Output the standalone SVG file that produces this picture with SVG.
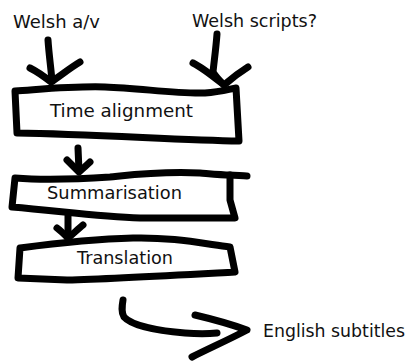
<svg xmlns="http://www.w3.org/2000/svg" width="412" height="363" viewBox="0 0 412 363">
  <style>
    .ink { fill: none; stroke: #000; stroke-width: 7; stroke-linecap: round; stroke-linejoin: round; }
    .box { fill: #fff; stroke: #000; stroke-width: 7; stroke-linecap: round; stroke-linejoin: round; }
    .lbl { font-family: "DejaVu Sans", "Liberation Sans", sans-serif; font-size: 17px; fill: #111; }
  </style>
  <rect width="412" height="363" fill="#fff"/>

  <!-- hand-drawn connectors -->
  <g id="connectors">
    <!-- Welsh a/v into Time alignment -->
    <path class="ink" d="M48,40 C49,55 51,68 52,81"/>
    <path class="ink" d="M30,68 C38,72 46,78 51,82 C60,76 70,68 80,62"/>
    <!-- Welsh scripts? into Time alignment -->
    <path class="ink" d="M217,34 C216,48 214,62 213,72 C216,77 220,81 224,85"/>
    <path class="ink" d="M193,63 C203,68 214,77 224,85 C232,78 240,72 248,67"/>
    <!-- Time alignment to Summarisation -->
    <path class="ink" d="M78,148 L79,171"/>
    <path class="ink" d="M67,160 C71,164 75,168 79,172 C83,168 87,165 90,162"/>
    <!-- Summarisation to Translation -->
    <path class="ink" d="M68,216 L68,238"/>
    <path class="ink" d="M57,228 C61,231 65,235 68,238 C73,234 78,229 83,225"/>
    <!-- Translation to English subtitles -->
    <path class="ink" d="M123,300 C122,306 121,312 124,317 C132,326 160,331 185,333 C197,334 208,334 217,333"/>
    <path class="ink" d="M195,315 C212,319 230,324 247,330 C230,339 210,348 192,357"/>
  </g>

  <g id="welsh-av">
    <text class="lbl" x="13" y="28" textLength="87" lengthAdjust="spacingAndGlyphs">Welsh a/v</text>
  </g>

  <g id="welsh-scripts">
    <text class="lbl" x="192" y="27" textLength="125" lengthAdjust="spacingAndGlyphs">Welsh scripts?</text>
  </g>

  <g id="time-alignment">
    <path class="box" d="M15,91 C45,89 75,86 105,87 C140,88 175,94 205,93 C220,92 230,89 236,88 L239,141 C180,140 90,134 17,133 Z"/>
    <text class="lbl" x="50" y="117" textLength="143" lengthAdjust="spacingAndGlyphs">Time alignment</text>
  </g>

  <g id="summarisation">
    <path class="box" d="M15,178 C40,180 80,179 110,177 C130,175 160,171 200,173 C212,174 222,175 230,175 L230,200 L235,218 C200,218 160,218 140,218 C100,217 60,211 12,207 Z"/>
    <path class="ink" d="M230,175 C236,175 242,176 247,176"/>
    <text class="lbl" x="47" y="199" textLength="135" lengthAdjust="spacingAndGlyphs">Summarisation</text>
  </g>

  <g id="translation">
    <path class="box" d="M20,248 C50,244 90,239 133,238 C170,237 200,243 230,247 L235,272 C180,275 110,279 67,280 L18,278 Z"/>
    <text class="lbl" x="77" y="264" textLength="96" lengthAdjust="spacingAndGlyphs">Translation</text>
  </g>

  <g id="english-subtitles">
    <text class="lbl" x="263" y="337" textLength="142" lengthAdjust="spacingAndGlyphs">English subtitles</text>
  </g>
</svg>
